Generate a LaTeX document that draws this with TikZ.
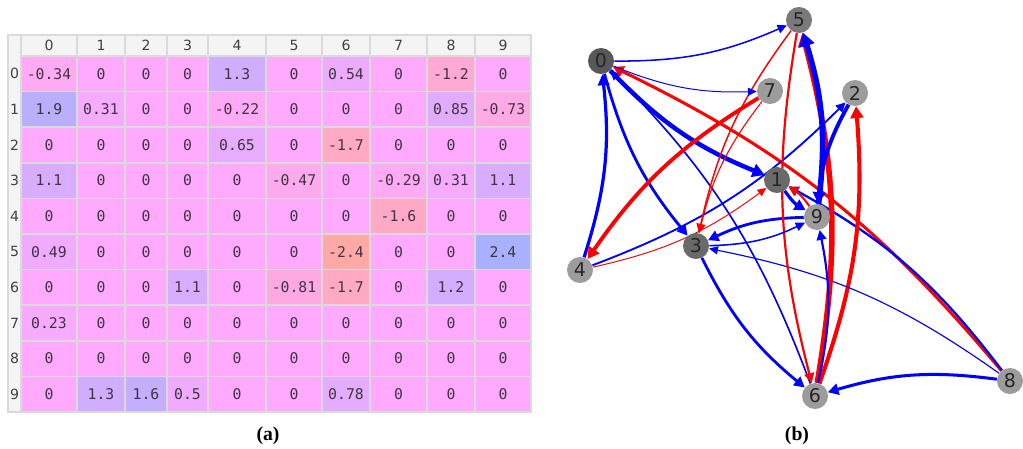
\documentclass[tikz,border=0pt]{standalone}
\usepackage{fontspec}
\usetikzlibrary{arrows.meta,backgrounds}
\newfontfamily\monofnt{DejaVu Sans Mono}
\newfontfamily\hdrfnt{DejaVu Sans}
\newfontfamily\capfnt{Liberation Serif}
\definecolor{cbase}{RGB}{255,170,255}
\definecolor{cpos}{RGB}{168,176,255}
\definecolor{cneg}{RGB}{255,168,168}
\definecolor{gridc}{HTML}{DADADA}
\definecolor{hdrbg}{HTML}{F4F4F4}
\definecolor{celltxt}{HTML}{403440}
\definecolor{eblue}{RGB}{0,0,255}
\definecolor{ered}{RGB}{255,0,0}
\definecolor{vdark}{HTML}{585858}
\definecolor{vmid}{HTML}{6A6A6A}
\definecolor{vgray}{HTML}{7A7A7A}
\definecolor{vlight}{HTML}{9C9C9C}
\tikzset{
  cell/.style={draw=gridc, line width=1.2pt},
  hdr/.style={font=\hdrfnt\fontsize{10}{11}\selectfont, text=black!75},
  val/.style={font=\monofnt\fontsize{10.5}{11}\selectfont, text=celltxt},
  vtx/.style={circle, minimum size=18.5pt, inner sep=0pt, font=\hdrfnt\fontsize{13.5}{14}\selectfont, text=black!85},
  edg/.style={-{Triangle[length=5.5pt 1.0, width=4.5pt 1.6]}},
  sublbl/.style={font=\capfnt\bfseries\fontsize{14}{16}\selectfont},
}

\begin{document}
\begin{tikzpicture}[x=0.025cm, y=-0.025cm]
  \useasboundingbox (0,0) rectangle (1023,448);
  \def\colx{{21,77,125,167,208,266,322,370,427,475,531}}
  % (a) the table
  \fill[hdrbg] (8,35) rectangle (531,56);
  \fill[hdrbg] (8,56) rectangle (21,412);
  \draw[cell] (8,35) rectangle (21,412);
  \foreach \ci in {0,...,9} {
    \pgfmathsetmacro\xl{\colx[\ci]}
    \pgfmathsetmacro\xr{\colx[\ci+1]}
    \draw[cell] (\xl,35) rectangle (\xr,56);
    \node[hdr] (h\ci) at ({(\xl+\xr)/2},45.5) {\ci};
  }
  \foreach \ri in {0,...,9}
    \node[hdr] (r\ri) at (14.5,{73.8+35.6*\ri}) {\ri};
  \foreach \ri/\vals in {
      0/{-0.34,0,0,0,1.3,0,0.54,0,-1.2,0},
      1/{1.9,0.31,0,0,-0.22,0,0,0,0.85,-0.73},
      2/{0,0,0,0,0.65,0,-1.7,0,0,0},
      3/{1.1,0,0,0,0,-0.47,0,-0.29,0.31,1.1},
      4/{0,0,0,0,0,0,0,-1.6,0,0},
      5/{0.49,0,0,0,0,0,-2.4,0,0,2.4},
      6/{0,0,0,1.1,0,-0.81,-1.7,0,1.2,0},
      7/{0.23,0,0,0,0,0,0,0,0,0},
      8/{0,0,0,0,0,0,0,0,0,0},
      9/{0,1.3,1.6,0.5,0,0,0.78,0,0,0}} {
    \foreach \v [count=\ci from 0] in \vals {
      \pgfmathsetmacro\xl{\colx[\ci]}
      \pgfmathsetmacro\xr{\colx[\ci+1]}
      \pgfmathsetmacro\yt{56+35.6*\ri}
      \pgfmathtruncatemacro\p{min(100,abs(\v)*100/2.4)}
      \ifdim \v pt>0pt \def\tc{cpos}\else\def\tc{cneg}\fi
      \draw[cell, fill=\tc!\p!cbase] (\xl,\yt) rectangle (\xr,\yt+35.6);
      \node[val] (c\ri-\ci) at ({(\xl+\xr)/2},\yt+17.8) {\v};
    }
  }
  \node[sublbl] (capa) at (268,436) {(a)};

  % (b) the graph
  \foreach \n/\x/\y/\f in {0/601/61/vdark, 5/799/20/vgray, 7/770/91/vlight, 2/855/93/vlight,
      1/777/180/vmid, 9/817/217/vlight, 3/696/246/vmid, 4/580/270/vlight,
      6/815/396/vlight, 8/1010/381/vlight}
    \node[vtx, fill=\f] (n\n) at (\x,\y) {\n};
  \begin{pgfonlayer}{background}
    \foreach \a/\b/\w in {4/0/1.3, 6/0/0.54, 8/0/-1.2, 0/1/1.9, 4/1/-0.22, 8/1/0.85, 9/1/-0.73,
        4/2/0.65, 6/2/-1.7, 0/3/1.1, 5/3/-0.47, 7/3/-0.29, 8/3/0.31, 9/3/1.1, 7/4/-1.6,
        0/5/0.49, 6/5/-2.4, 9/5/2.4, 3/6/1.1, 5/6/-0.81, 8/6/1.2, 0/7/0.23,
        1/9/1.3, 2/9/1.6, 3/9/0.5, 6/9/0.78} {
      \pgfmathsetmacro\lw{(0.5+2.1*abs(\w))*0.7113}
      \ifdim \w pt>0pt \def\ec{eblue}\else\def\ec{ered}\fi
      \draw[edg, draw=\ec, line width=\lw pt] (n\a) to[bend right=12] (n\b);
    }
  \end{pgfonlayer}
  \node[sublbl] (capb) at (797,436) {(b)};
\end{tikzpicture}
\end{document}
